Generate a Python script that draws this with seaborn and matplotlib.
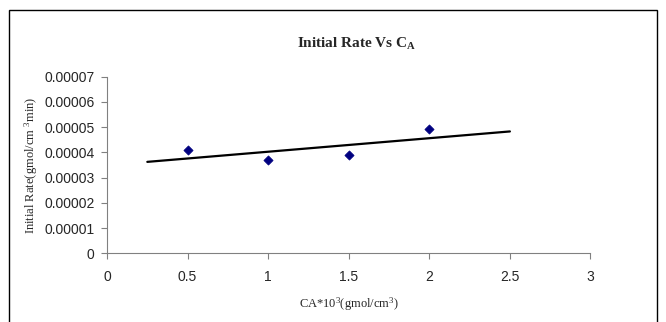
import numpy as np
import pandas as pd
import matplotlib
matplotlib.use("Agg")
import matplotlib.pyplot as plt
import seaborn as sns
from matplotlib.patches import Rectangle

# Data
ca = [0.5, 1.0, 1.5, 2.0]
rate = [0.0000411, 0.0000370, 0.0000389, 0.0000494]
trend_range = [0.25, 2.5]
x_ticks = [0, 0.5, 1, 1.5, 2, 2.5, 3]
x_tick_labels = ["0", "0.5", "1", "1.5", "2", "2.5", "3"]
y_ticks = [0, 0.00001, 0.00002, 0.00003, 0.00004, 0.00005, 0.00006, 0.00007]
y_tick_labels = ["0", "0.00001", "0.00002", "0.00003", "0.00004", "0.00005", "0.00006", "0.00007"]

sns.set_style("ticks")
plt.rcParams["font.family"] = ["Liberation Sans", "DejaVu Sans"]
plt.rcParams["mathtext.fontset"] = "custom"
plt.rcParams["mathtext.rm"] = "Liberation Serif"
plt.rcParams["mathtext.it"] = "Liberation Serif:italic"
plt.rcParams["mathtext.bf"] = "Liberation Serif:bold"

df = pd.DataFrame({"ca": ca, "rate": rate})
slope, intercept = np.polyfit(ca, rate, 1)
trend = pd.DataFrame({"ca": trend_range})
trend["rate"] = slope * trend["ca"] + intercept

fig = plt.figure(figsize=(6.66, 3.22), dpi=100)
ax = fig.add_axes([0.1607, 0.2134, 0.7259, 0.5484])

sns.lineplot(data=trend, x="ca", y="rate", ax=ax, color="black", linewidth=1.6)
sns.scatterplot(data=df, x="ca", y="rate", ax=ax, marker="D", color="#000080",
                s=22, edgecolor="#000080", linewidth=0.5, zorder=3)

ax.set_xlim(0, 3)
ax.set_ylim(0, 0.00007)
ax.set_xticks(x_ticks)
ax.set_xticklabels(x_tick_labels, fontsize=10)
ax.set_yticks(y_ticks)
ax.set_yticklabels(y_tick_labels, fontsize=10)
ax.tick_params(axis="both", direction="out", length=4, width=0.8, color="#808080", pad=5)
ax.tick_params(axis="x", pad=8)

for s in ["top", "right"]:
    ax.spines[s].set_visible(False)
for s in ["left", "bottom"]:
    ax.spines[s].set_color("#808080")
    ax.spines[s].set_linewidth(0.8)

ax.set_xlabel(r"CA*10$^{3}$(gmol/cm$^{3}$)", family="Liberation Serif", fontsize=9, labelpad=8)
ax.set_ylabel(r"Initial Rate(gmol/cm $^{3}$min)", family="Liberation Serif", fontsize=9, labelpad=3)
fig.text(0.535, 0.862, r"Initial Rate Vs C$_\mathbf{A}$", family="Liberation Serif",
         fontsize=11, fontweight="bold", ha="center", va="center")

fig.patches.append(Rectangle((0.0128, -0.1), 0.974, 1.069, transform=fig.transFigure,
                             fill=False, edgecolor="black", linewidth=1.0))

fig.savefig("out.png", dpi=100)
